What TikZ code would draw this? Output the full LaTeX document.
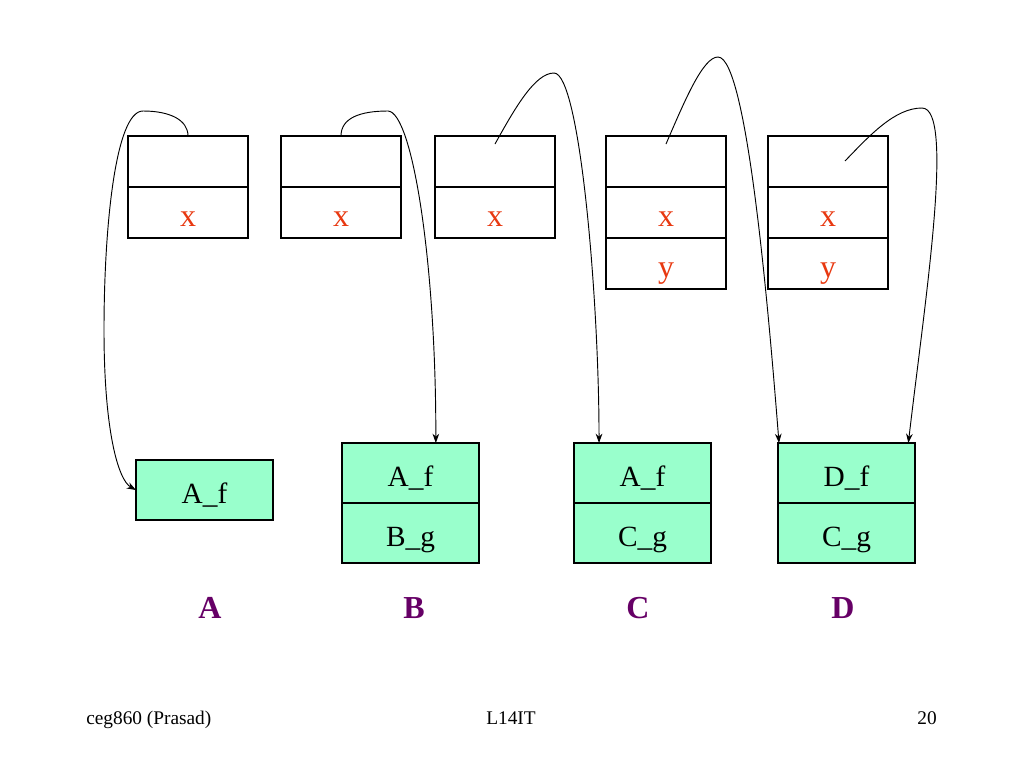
\documentclass[tikz,border=0pt]{standalone}
\usepackage{fontspec}
\setmainfont{Liberation Serif}
\usetikzlibrary{arrows.meta}
\definecolor{varred}{RGB}{232,56,16}
\definecolor{boxgreen}{RGB}{153,255,204}
\definecolor{lblpurple}{RGB}{102,0,102}
\tikzset{
  frame/.style={draw=black,line width=0.8pt,minimum width=90pt,minimum height=38.25pt,inner sep=0pt,outer sep=0pt,anchor=north west},
  gcell/.style={draw=black,line width=0.8pt,fill=boxgreen,minimum width=102.75pt,minimum height=45pt,inner sep=0pt,outer sep=0pt,anchor=north west},
  vartxt/.style={text=varred,font=\fontsize{24}{28}\selectfont,anchor=base,inner sep=0pt},
  celltxt/.style={font=\fontsize{22}{26}\selectfont,anchor=base,inner sep=0pt},
  lbl/.style={text=lblpurple,font=\fontsize{24}{28}\selectfont\bfseries,anchor=base,inner sep=0pt},
  foot/.style={font=\fontsize{14.5}{17}\selectfont,inner sep=0pt},
  ptr/.style={line width=0.7pt,-{Stealth[length=7pt,width=5pt]}}
}
\begin{document}
\begin{tikzpicture}[x=0.75pt,y=-0.75pt]
\useasboundingbox (0,0) rectangle (1024,768);
% top frames
\node[frame] (t1a) at (128,136) {};
\node[frame] (t1b) at (128,187) {};
\node[frame] (t2a) at (281,136) {};
\node[frame] (t2b) at (281,187) {};
\node[frame] (t3a) at (435,136) {};
\node[frame] (t3b) at (435,187) {};
\node[frame] (t4a) at (606,136) {};
\node[frame] (t4b) at (606,187) {};
\node[frame] (t4c) at (606,238) {};
\node[frame] (t5a) at (768,136) {};
\node[frame] (t5b) at (768,187) {};
\node[frame] (t5c) at (768,238) {};
\node[vartxt] (x1) at (188,226) {x};
\node[vartxt] (x2) at (341,226) {x};
\node[vartxt] (x3) at (495,226) {x};
\node[vartxt] (x4) at (666,226) {x};
\node[vartxt] (y4) at (666,277) {y};
\node[vartxt] (x5) at (828,226) {x};
\node[vartxt] (y5) at (828,277) {y};
% bottom boxes
\node[gcell] (Aa) at (136,460) {};
\node[gcell] (Ba) at (342,443) {};
\node[gcell] (Bb) at (342,503) {};
\node[gcell] (Ca) at (574,443) {};
\node[gcell] (Cb) at (574,503) {};
\node[gcell] (Da) at (778,443) {};
\node[gcell] (Db) at (778,503) {};
\node[celltxt] (tA1) at (204.5,503) {A\_f};
\node[celltxt] (tB1) at (410.5,486) {A\_f};
\node[celltxt] (tB2) at (410.5,546) {B\_g};
\node[celltxt] (tC1) at (642.5,486) {A\_f};
\node[celltxt] (tC2) at (642.5,546) {C\_g};
\node[celltxt] (tD1) at (846.5,486) {D\_f};
\node[celltxt] (tD2) at (846.5,546) {C\_g};
% labels
\node[lbl] (lA) at (210,618) {A};
\node[lbl] (lB) at (414,618) {B};
\node[lbl] (lC) at (638,618) {C};
\node[lbl] (lD) at (843,618) {D};
% footer
\node[foot,anchor=base west] (f1) at (86,724) {ceg860 (Prasad)};
\node[foot,anchor=base] (f2) at (511,724) {L14IT};
\node[foot,anchor=base east] (f3) at (937,724) {20};
% pointers
\draw[ptr] (t1a.north) .. controls (188,120) and (170,111) .. (143,111)
  .. controls (115,111) and (104,230) .. (104,330)
  .. controls (104,430) and (118,480) .. (Aa.west);
\draw[ptr] (t2a.north) .. controls (341,118) and (360,111) .. (388,111)
  .. controls (412,112) and (436,260) .. ([xshift=19pt]Ba.north);
\draw[ptr] ([yshift=-6pt]t3a.north) .. controls (515,108) and (535,73) .. (554,73)
  .. controls (580,73) and (599,300) .. ([xshift=-32.6pt]Ca.north);
\draw[ptr] ([yshift=-6pt]t4a.north) .. controls (685,100) and (703,57) .. (718,57)
  .. controls (748,57) and (770,330) .. ([xshift=0.75pt]Da.north west);
\draw[ptr] ([xshift=12.75pt,yshift=-18.75pt]t5a.north) .. controls (870,135) and (895,108) .. (922,108)
  .. controls (955,108) and (925,300) .. ([xshift=-5pt]Da.north east);
\end{tikzpicture}
\end{document}
